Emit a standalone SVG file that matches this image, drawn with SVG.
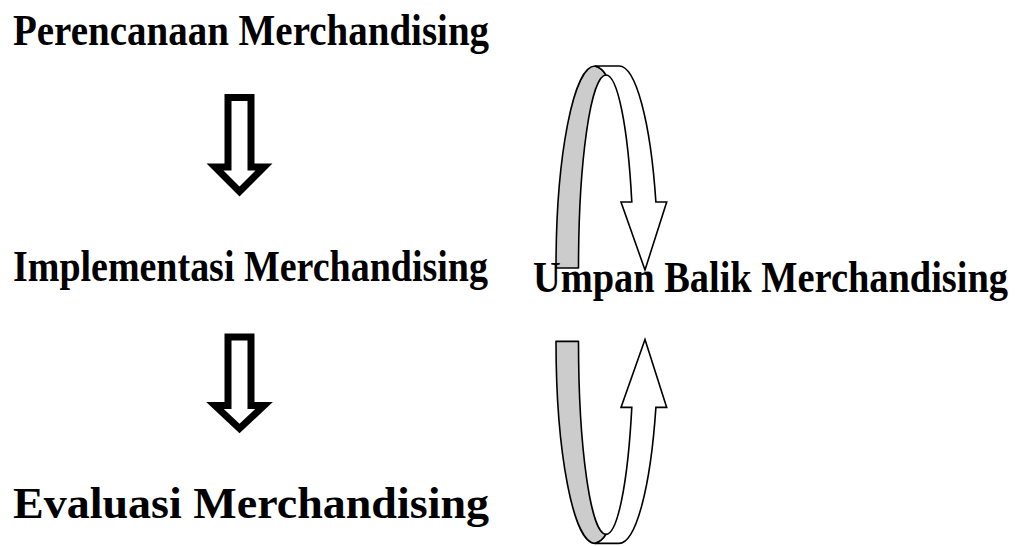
<svg xmlns="http://www.w3.org/2000/svg" width="1018" height="546" viewBox="0 0 1018 546">
  <style>
    .label { font-family: "Liberation Serif", "Times New Roman", serif; font-weight: bold; font-size: 45px; fill: #000; }
    .block { fill: #fff; stroke: #000; stroke-width: 7; stroke-linejoin: miter; stroke-miterlimit: 10; }
    .ribbon-back { fill: #cccccc; stroke: #000; stroke-width: 1.6; stroke-linejoin: round; }
    .ribbon-front { fill: #fff; stroke: #000; stroke-width: 1.6; stroke-linejoin: miter; }
  </style>
  <defs>
    <!-- curved 3D ribbon arrow turning over the top and pointing down -->
    <g id="loop-arrow">
      <path class="ribbon-back" d="M556,268 A39,202 0 0 1 595,66 Q602,68 606,75 A27.5,193 0 0 0 578.5,268 Z"/>
      <path class="ribbon-front" d="M595,66 L619,66 A39,202 0 0 1 655.9,202 L666.7,202 L645,270 L621,202 L631.8,202 A27.5,193 0 0 0 606,75 Q602,68 595,66 Z"/>
    </g>
  </defs>

  <!-- connectors -->
  <g id="connectors">
    <path class="block" d="M228,97.5 L251,97.5 L251,167 L264,167 L239.5,191.5 L215,167 L228,167 Z"/>
    <path class="block" d="M228,337 L251,337 L251,405.5 L264,405.5 L239.5,428.5 L215,405.5 L228,405.5 Z"/>
    <use href="#loop-arrow"/>
    <use href="#loop-arrow" transform="translate(0,609.4) scale(1,-1)"/>
  </g>

  <!-- nodes: labels narrowed horizontally to their column widths -->
  <g id="perencanaan" transform="translate(13,45) scale(0.864,1)">
    <text class="label" x="0" y="0" textLength="551" lengthAdjust="spacingAndGlyphs">Perencanaan Merchandising</text>
  </g>
  <g id="implementasi" transform="translate(13,281) scale(0.842,1)">
    <text class="label" x="0" y="0" textLength="564" lengthAdjust="spacingAndGlyphs">Implementasi Merchandising</text>
  </g>
  <g id="umpan-balik" transform="translate(533,292) scale(0.852,1)">
    <text class="label" x="0" y="0" textLength="557.5" lengthAdjust="spacingAndGlyphs">Umpan Balik Merchandising</text>
  </g>
  <g id="evaluasi" transform="translate(13,518) scale(1.02,1)">
    <text class="label" x="0" y="0" textLength="466.7" lengthAdjust="spacingAndGlyphs">Evaluasi Merchandising</text>
  </g>
</svg>
